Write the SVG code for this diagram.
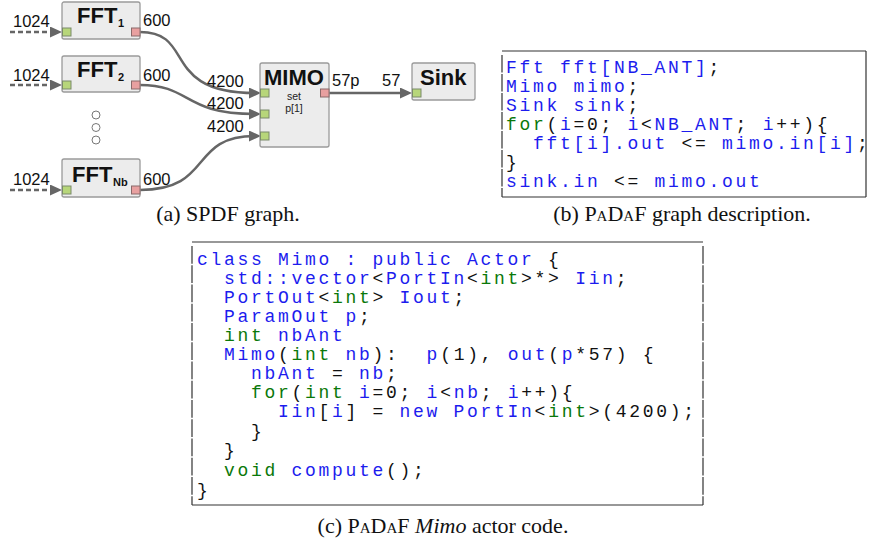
<svg xmlns="http://www.w3.org/2000/svg" width="870" height="542" viewBox="0 0 870 542">
<defs>
<marker id="ah" markerUnits="userSpaceOnUse" markerWidth="12" markerHeight="11" refX="6" refY="5.5" orient="auto">
<path d="M0,0 L12,5.5 L0,11 z" fill="#666"/>
</marker>
<style>
.node rect.box{fill:#ececec;stroke:#9a9a9a;stroke-width:1.3}
.pin{fill:#b7d67a;stroke:#7a8a6a;stroke-width:1}
.pout{fill:#e8a0a0;stroke:#8a6a6a;stroke-width:1}
.title{font-family:"Liberation Sans",Arial,sans-serif;font-weight:bold;font-size:22px;fill:#111}
.sub{font-family:"Liberation Sans",Arial,sans-serif;font-weight:bold;font-size:11px;fill:#111}
.lbl{font-family:"Liberation Sans",Arial,sans-serif;font-size:16.5px;fill:#111}
.small{font-family:"Liberation Sans",Arial,sans-serif;font-size:10.5px;fill:#222;text-anchor:middle}
.edge{fill:none;stroke:#666;stroke-width:2.5}
.dash{fill:none;stroke:#666;stroke-width:2.5;stroke-dasharray:5 3}
.code{font-family:"Liberation Mono","DejaVu Sans Mono",monospace;font-size:18px;letter-spacing:2.7px;fill:#111}
.b{fill:#1c1cee}
.g{fill:#0a780a}
.frame{fill:none;stroke:#333;stroke-width:1.2}
.cap{font-family:"Liberation Serif","Times New Roman",serif;font-size:22px;fill:#111;text-anchor:middle}
</style>
</defs>
<rect width="870" height="542" fill="#fff"/>

<g id="connectors">
<path class="dash" d="M10,32 L56,32" marker-end="url(#ah)"/>
<path class="dash" d="M10,85 L56,85" marker-end="url(#ah)"/>
<path class="dash" d="M10,190 L56,190" marker-end="url(#ah)"/>
<path class="edge" d="M140,32 C196,32 160,93 255,93" marker-end="url(#ah)"/>
<path class="edge" d="M140,85 C192,85 182,114 255,114" marker-end="url(#ah)"/>
<path class="edge" d="M140,190 C214,190 188,136 255,136" marker-end="url(#ah)"/>
<path class="edge" d="M329,93 L406,93" marker-end="url(#ah)"/>
</g>

<g id="labels">
<text class="lbl" x="13" y="27">1024</text>
<text class="lbl" x="13" y="81">1024</text>
<text class="lbl" x="13" y="185">1024</text>
<text class="lbl" x="143" y="26">600</text>
<text class="lbl" x="143" y="81">600</text>
<text class="lbl" x="143" y="185">600</text>
<text class="lbl" x="207" y="87">4200</text>
<text class="lbl" x="207" y="109">4200</text>
<text class="lbl" x="207" y="132">4200</text>
<text class="lbl" x="332" y="86">57p</text>
<text class="lbl" x="382" y="86">57</text>
</g>

<g id="fft1" class="node">
<rect class="box" x="62" y="2" width="78" height="37" rx="2"/>
<text class="title" x="77" y="23">FFT</text>
<text class="sub" x="118" y="27">1</text>
<rect class="pin" x="62.5" y="28" width="8.5" height="8"/>
<rect class="pout" x="131.5" y="28" width="8.5" height="8"/>
</g>

<g id="fft2" class="node">
<rect class="box" x="62" y="56" width="78" height="36" rx="2"/>
<text class="title" x="77" y="77">FFT</text>
<text class="sub" x="118" y="81">2</text>
<rect class="pin" x="62.5" y="81" width="8.5" height="8"/>
<rect class="pout" x="131.5" y="81" width="8.5" height="8"/>
</g>

<g id="dots">
<circle cx="96" cy="115" r="4" fill="#fff" stroke="#777" stroke-width="1"/>
<circle cx="96" cy="127.5" r="4" fill="#fff" stroke="#777" stroke-width="1"/>
<circle cx="96" cy="140" r="4" fill="#fff" stroke="#777" stroke-width="1"/>
</g>

<g id="fftnb" class="node">
<rect class="box" x="62" y="159" width="78" height="38" rx="2"/>
<text class="title" x="72" y="182">FFT</text>
<text class="sub" x="113" y="186">Nb</text>
<rect class="pin" x="62.5" y="186" width="8.5" height="8"/>
<rect class="pout" x="131.5" y="186" width="8.5" height="8"/>
</g>

<g id="mimo" class="node">
<rect class="box" x="260" y="63" width="69" height="84" rx="2"/>
<text class="title" x="264" y="85">MIMO</text>
<text class="small" x="294" y="99.5">set</text>
<text class="small" x="294" y="112">p[1]</text>
<rect class="pin" x="260.5" y="89" width="8.5" height="8"/>
<rect class="pin" x="260.5" y="110" width="8.5" height="8"/>
<rect class="pin" x="260.5" y="132" width="8.5" height="8"/>
<rect class="pout" x="320.5" y="89" width="8.5" height="8"/>
</g>

<g id="sink" class="node">
<rect class="box" x="412" y="63" width="63" height="37" rx="2"/>
<text class="title" x="420" y="85">Sink</text>
<rect class="pin" x="412.5" y="89" width="8.5" height="8"/>
</g>

<g id="code-b">
<line class="frame" x1="502" y1="51" x2="866" y2="51"/>
<line class="frame" x1="502" y1="197" x2="866" y2="197"/>
<line class="frame" x1="866" y1="51" x2="866" y2="197" stroke="#888"/>
<line class="frame" x1="502" y1="55" x2="502" y2="197" stroke-dasharray="17.5 1.5"/>
<text class="code" xml:space="preserve" x="506" y="73"><tspan class="b">Fft fft[NB_ANT]</tspan>;</text>
<text class="code" xml:space="preserve" x="506" y="92"><tspan class="b">Mimo mimo</tspan>;</text>
<text class="code" xml:space="preserve" x="506" y="111"><tspan class="b">Sink sink</tspan>;</text>
<text class="code" xml:space="preserve" x="506" y="130"><tspan class="g">for</tspan>(<tspan class="b">i</tspan>=0; <tspan class="b">i</tspan>&lt;<tspan class="b">NB_ANT</tspan>; <tspan class="b">i</tspan>++){</text>
<text class="code" xml:space="preserve" x="506" y="149">  <tspan class="b">fft[i].out</tspan> &lt;= <tspan class="b">mimo.in[i]</tspan>;</text>
<text class="code" xml:space="preserve" x="506" y="168">}</text>
<text class="code" xml:space="preserve" x="506" y="187"><tspan class="b">sink.in</tspan> &lt;= <tspan class="b">mimo.out</tspan></text>
</g>

<g id="code-c">
<line class="frame" x1="192" y1="242" x2="703" y2="242"/>
<line class="frame" x1="192" y1="505" x2="703" y2="505"/>
<line class="frame" x1="192" y1="246" x2="192" y2="505" stroke-dasharray="17.7 1.55"/>
<line class="frame" x1="703" y1="246" x2="703" y2="505" stroke-dasharray="17.7 1.55"/>
<text class="code" xml:space="preserve" x="197" y="265"><tspan class="b">class Mimo : public Actor</tspan> {</text>
<text class="code" xml:space="preserve" x="197" y="284">  <tspan class="b">std::vector</tspan>&lt;<tspan class="b">PortIn</tspan>&lt;<tspan class="g">int</tspan>&gt;*&gt; <tspan class="b">Iin</tspan>;</text>
<text class="code" xml:space="preserve" x="197" y="303">  <tspan class="b">PortOut</tspan>&lt;<tspan class="g">int</tspan>&gt; <tspan class="b">Iout</tspan>;</text>
<text class="code" xml:space="preserve" x="197" y="322">  <tspan class="b">ParamOut p</tspan>;</text>
<text class="code" xml:space="preserve" x="197" y="341">  <tspan class="g">int</tspan> <tspan class="b">nbAnt</tspan></text>
<text class="code" xml:space="preserve" x="197" y="360">  <tspan class="b">Mimo</tspan>(<tspan class="g">int</tspan> <tspan class="b">nb</tspan>):  <tspan class="b">p</tspan>(1), <tspan class="b">out</tspan>(<tspan class="b">p</tspan>*57) {</text>
<text class="code" xml:space="preserve" x="197" y="379">    <tspan class="b">nbAnt</tspan> = <tspan class="b">nb</tspan>;</text>
<text class="code" xml:space="preserve" x="197" y="398">    <tspan class="g">for</tspan>(<tspan class="g">int</tspan> <tspan class="b">i</tspan>=0; <tspan class="b">i</tspan>&lt;<tspan class="b">nb</tspan>; <tspan class="b">i</tspan>++){</text>
<text class="code" xml:space="preserve" x="197" y="417">      <tspan class="b">Iin</tspan>[<tspan class="b">i</tspan>] = <tspan class="b">new PortIn</tspan>&lt;<tspan class="g">int</tspan>&gt;(4200);</text>
<text class="code" xml:space="preserve" x="197" y="437">    }</text>
<text class="code" xml:space="preserve" x="197" y="456">  }</text>
<text class="code" xml:space="preserve" x="197" y="476">  <tspan class="g">void</tspan> <tspan class="b">compute</tspan>();</text>
<text class="code" xml:space="preserve" x="197" y="496">}</text>
</g>

<g id="captions">
<text class="cap" x="228" y="221">(a) SPDF graph.</text>
<text class="cap" x="682" y="221">(b) <tspan font-variant="small-caps">PaDaF</tspan> graph description.</text>
<text class="cap" x="443" y="533">(c) <tspan font-variant="small-caps">PaDaF</tspan> <tspan font-style="italic">Mimo</tspan> actor code.</text>
</g>
</svg>
